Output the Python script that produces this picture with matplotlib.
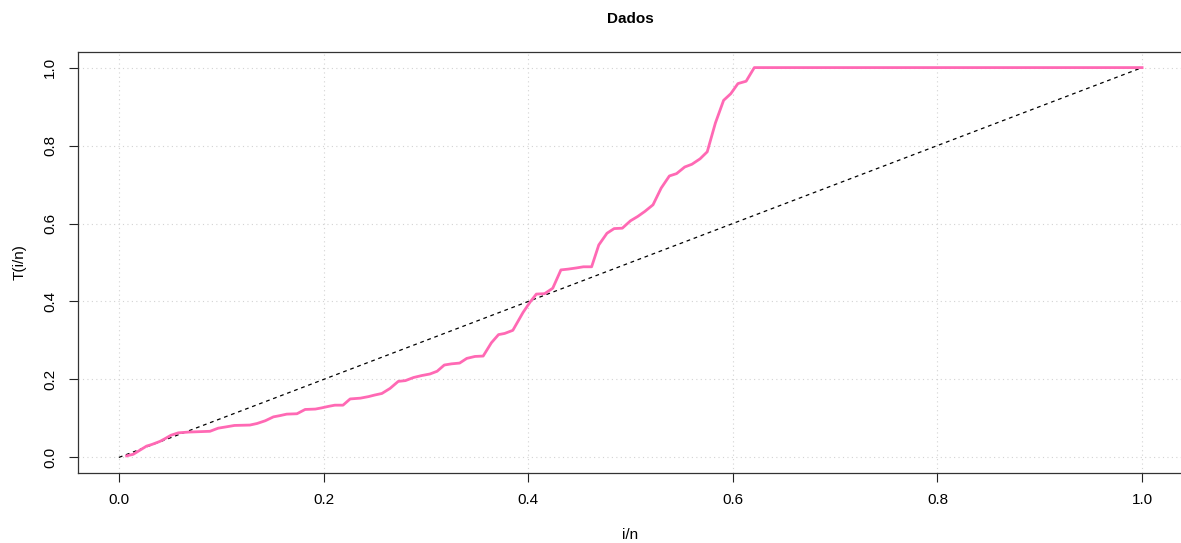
"""
TTT plot ("Dados") recreated from an R base-graphics figure.
"""
import matplotlib
matplotlib.use('Agg')
import matplotlib.pyplot as plt

matplotlib.rcParams.update({
    'font.family': ['Liberation Sans', 'DejaVu Sans'],
})

# ── Data ──────────────────────────────────────────────────────────────────────
u = [0.0075, 0.014, 0.027, 0.032, 0.040, 0.045, 0.051, 0.058, 0.068, 0.089,
     0.097, 0.104, 0.113, 0.128, 0.135, 0.143, 0.151, 0.157, 0.164, 0.174,
     0.182, 0.192, 0.198, 0.205, 0.211, 0.219, 0.226, 0.236, 0.244, 0.250,
     0.257, 0.265, 0.273, 0.280, 0.288, 0.296, 0.304, 0.311, 0.318, 0.325,
     0.333, 0.340, 0.348, 0.356, 0.364, 0.371, 0.377, 0.385, 0.395, 0.402,
     0.408, 0.416, 0.424, 0.432, 0.439, 0.447, 0.454, 0.462, 0.469, 0.477,
     0.484, 0.492, 0.500, 0.507, 0.514, 0.522, 0.530, 0.538, 0.545, 0.553,
     0.560, 0.568, 0.575, 0.583, 0.591, 0.598, 0.605, 0.613, 0.621, 1.000]
ttt = [0.004, 0.008, 0.029, 0.033, 0.041, 0.048, 0.057, 0.063, 0.065, 0.067,
       0.075, 0.078, 0.082, 0.083, 0.087, 0.094, 0.104, 0.107, 0.111, 0.112,
       0.123, 0.124, 0.127, 0.131, 0.134, 0.134, 0.150, 0.152, 0.156, 0.160,
       0.164, 0.177, 0.195, 0.197, 0.205, 0.210, 0.214, 0.221, 0.237, 0.240,
       0.242, 0.254, 0.259, 0.260, 0.294, 0.315, 0.318, 0.326, 0.372, 0.399,
       0.419, 0.420, 0.434, 0.481, 0.483, 0.486, 0.489, 0.489, 0.545, 0.575,
       0.587, 0.588, 0.607, 0.618, 0.631, 0.648, 0.691, 0.722, 0.728, 0.745,
       0.752, 0.766, 0.784, 0.858, 0.916, 0.933, 0.959, 0.965, 1.000, 1.000]

ref_line = [0.0, 1.0]
ticks = [0.0, 0.2, 0.4, 0.6, 0.8, 1.0]
tick_labels = ['0.0', '0.2', '0.4', '0.6', '0.8', '1.0']

# ── Figure ────────────────────────────────────────────────────────────────────
W, H = 1181, 543
fig = plt.figure(figsize=(W / 100, H / 100), dpi=100)
fig.patch.set_facecolor('white')
ax = fig.add_axes([78 / W, 1 - 473 / H, (1183 - 78) / W, (473 - 52) / H])

ax.set_xlim(-0.04, 1.04)
ax.set_ylim(-0.04, 1.04)

# grid (R: grid(col='lightgray', lty='dotted'))
for t in ticks:
    ax.axvline(t, color='#D3D3D3', lw=0.8, ls=(0, (1, 3)), zorder=1)
    ax.axhline(t, color='#D3D3D3', lw=0.8, ls=(0, (1, 3)), zorder=1)

ax.plot(ref_line, ref_line, color='black', lw=0.9, ls=(0, (3, 3)), zorder=2)
ax.plot(u, ttt, color='#FF69B4', lw=2.0, zorder=3)

ax.set_xticks(ticks)
ax.set_xticklabels(tick_labels, fontsize=11)
ax.set_yticks(ticks)
ax.set_yticklabels(tick_labels, fontsize=11, rotation=90, va='center')
ax.tick_params(axis='both', direction='out', length=6.5, width=0.8,
               color='#222222')
ax.tick_params(axis='x', pad=8)
ax.tick_params(axis='y', pad=8.5)
for spine in ax.spines.values():
    spine.set_linewidth(0.9)
    spine.set_color('#333333')

ax.set_xlabel('i/n', fontsize=11, labelpad=15)
ax.set_ylabel('T(i/n)', fontsize=11, labelpad=12)
ax.set_title('Dados', fontsize=11, fontweight='bold', pad=21)

fig.savefig('out.png', dpi=100, facecolor='white')
